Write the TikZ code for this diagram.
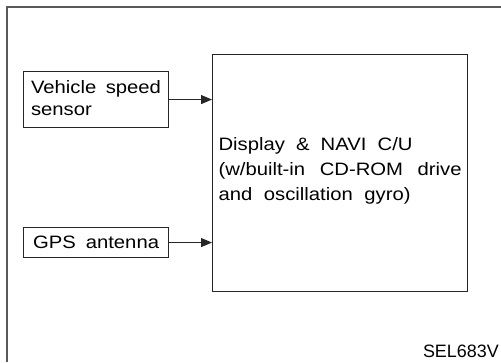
\documentclass[tikz,border=0pt]{standalone}
\usepackage{fontspec}
\setmainfont[FakeStretch=1.13]{Liberation Sans}
\newfontfamily\labelfont{Liberation Sans}
\usetikzlibrary{arrows.meta}
\newcommand{\fitline}[2]{\makebox[#1bp][s]{#2}}
\begin{document}
\begin{tikzpicture}[x=1bp,y=-1bp,
  box/.style={draw=black!85,line width=1.1bp,inner sep=0pt,align=left,anchor=north west},
  conn/.style={draw=black!85,line width=1bp,-{Triangle[length=11bp,width=9bp]}},
  frame/.style={draw=black!65,line width=1.4bp}]
\useasboundingbox[fill=white] (0,0) rectangle (501,362);
\draw[frame] (7,362) -- (7,7) -- (501,7);
\node[box,minimum width=145bp,minimum height=56bp,font=\fontsize{18}{22.5}\selectfont] (vss) at (23,71) {\fitline{130}{Vehicle speed}\\sensor\rule[-3bp]{0pt}{0pt}};
\node[box,minimum width=145bp,minimum height=30bp,font=\fontsize{18}{22.5}\selectfont] (gps) at (23,227) {\fitline{126}{GPS antenna}\rule[-1bp]{0pt}{0pt}};
\node[box,minimum width=255bp,minimum height=237bp,font=\fontsize{18}{25}\selectfont] (cu) at (212,54) {\fitline{194}{Display \& NAVI C/U}\\\fitline{243}{(w/built-in CD-ROM drive}\\\fitline{192}{and oscillation gyro)}\rule[-8.1bp]{0pt}{0pt}};
\draw[conn] (vss.east) -- (vss.east -| cu.west);
\draw[conn] (gps.east) -- (gps.east -| cu.west);
\node[anchor=base east,inner sep=0pt,font=\labelfont\fontsize{18}{20}\selectfont] (code) at (499,357) {SEL683V};
\end{tikzpicture}
\end{document}
